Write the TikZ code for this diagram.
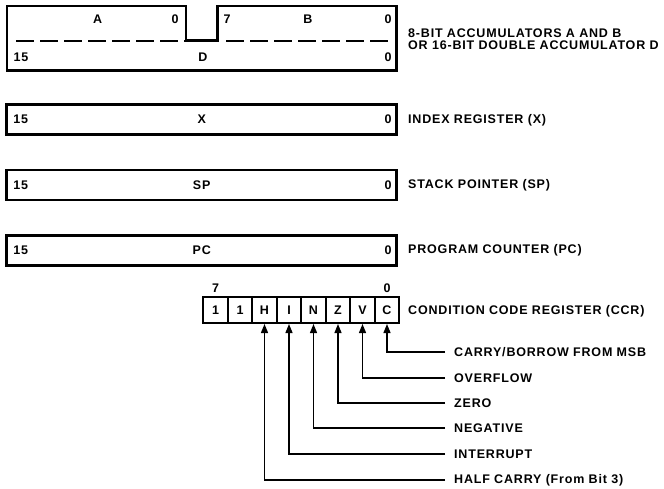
\documentclass[tikz,border=0pt]{standalone}
\usepackage{fontspec}
\setmainfont{Liberation Sans}[LetterSpace=6.5]
\usetikzlibrary{arrows.meta}
\begin{document}
\begin{tikzpicture}[x=1pt,y=-1pt,
  every node/.style={font=\fontsize{12.5}{13.5}\selectfont\bfseries, inner sep=0pt},
  regbox/.style={draw, line width=2.7pt, minimum width=390pt, minimum height=30pt},
  cell/.style={draw, line width=2pt, minimum width=24.5pt, minimum height=26pt},
  lbl/.style={anchor=west},
  dashline/.style={line width=2pt, dash pattern=on 18pt off 6pt},
  arr/.style={line width=1.3pt, -{Triangle[length=9pt,width=7pt]}}]
\useasboundingbox (0,0) rectangle (664,488);
% accumulator box
\draw[line width=2.7pt, line join=miter] (7,6) -- (186,6) -- (186,40.5) -- (217.5,40.5) -- (217.5,6) -- (396.5,6) -- (396.5,70.5) -- (7,70.5) -- cycle;
\draw[dashline] (16,40.5) -- (186,40.5);
\draw[dashline] (226,40.5) -- (392,40.5);
\node (tA) at (97.7,19) {A};
\node (tA0) at (175,19) {0};
\node (tB7) at (227,19) {7};
\node (tB) at (308,19) {B};
\node (tB0) at (388,19) {0};
\node (tD15) at (21,57) {15};
\node (tD) at (203,57) {D};
\node (tD0) at (388,57) {0};
\node[lbl, align=left] (lAB) at (408,39.5) {8-BIT ACCUMULATORS A AND B\\[-1.5pt]OR 16-BIT DOUBLE ACCUMULATOR D};
% X, SP, PC
\node[regbox] (X) at (201.7,119.5) {};
\node[regbox] (SP) at (201.7,185) {};
\node[regbox] (PC) at (201.7,250.5) {};
\foreach \r/\t in {X/X,SP/SP,PC/PC}{
  \node[anchor=center] (\r15) at ([xshift=-181pt]\r.center) {15};
  \node (\r n) at (\r.center) {\t};
  \node (\r0) at ([xshift=186.5pt]\r.center) {0};
}
\node[lbl] (lX) at (408,120) {INDEX REGISTER (X)};
\node[lbl] (lSP) at (408,185) {STACK POINTER (SP)};
\node[lbl] (lPC) at (408,250) {PROGRAM COUNTER (PC)};
% CCR
\foreach \i/\t [count=\k from 0] in {b7/1,b6/1,H/H,I/I,N/N,Z/Z,V/V,C/C}{
  \node[cell] (c\i) at (215.5+24.5*\k,310) {\t};
}
\node (t7) at (215.5,288) {7};
\node (t0) at (387,288) {0};
\node[lbl] (lCCR) at (408,311) {CONDITION CODE REGISTER (CCR)};
\foreach \i/\y/\t in {C/352/{CARRY/BORROW FROM MSB}, V/378/OVERFLOW, Z/403/ZERO, N/428/NEGATIVE, I/454/INTERRUPT, H/480/{HALF CARRY (From Bit 3)}}{
  \node[lbl] (l\i) at (454,\y) {\t};
  \coordinate (e\i) at (445,\y);
  \draw[arr] (e\i) -| (c\i.south);
}
\end{tikzpicture}
\end{document}
